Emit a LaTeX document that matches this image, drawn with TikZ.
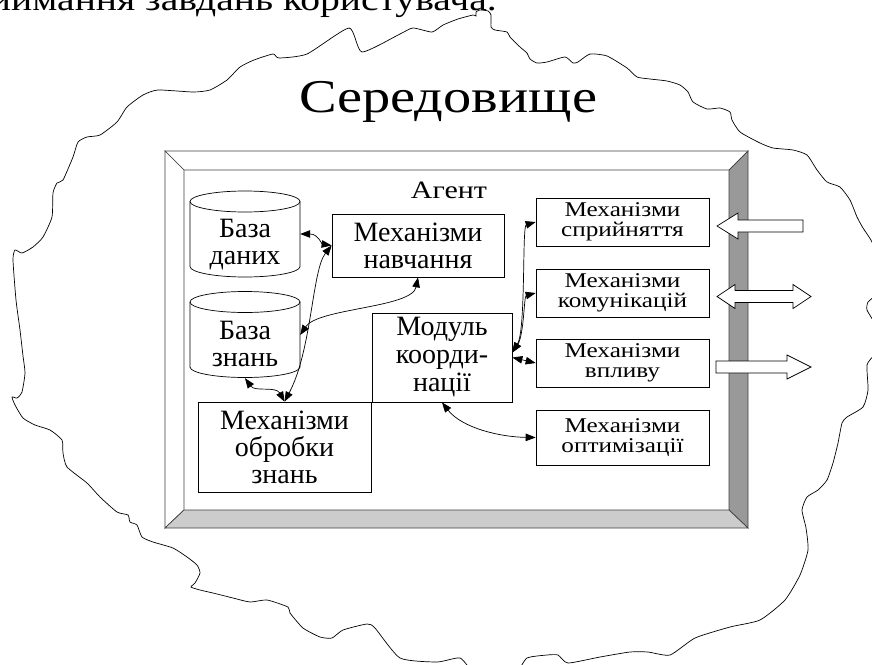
\documentclass[tikz,border=0pt]{standalone}
\usepackage{fontspec}
\setmainfont{Liberation Serif}
\newfontfamily\widefont{Liberation Serif}[FakeStretch=1.2]
\usetikzlibrary{arrows.meta,calc}

\begin{document}
\begin{tikzpicture}[x=1pt,y=-1pt,
  box/.style={draw, rectangle, inner sep=0pt, align=center, line width=0.7pt},
  bigtext/.style={font=\fontsize{28}{27}\selectfont},
  smalltext/.style={font=\widefont\fontsize{21}{19.5}\selectfont},
  link/.style={line width=0.7pt,
    {Triangle[length=10pt,width=7.5pt]}-{Triangle[length=10pt,width=7.5pt]}},
  flow/.style={draw, fill=white, line width=0.7pt, line join=miter},
  bevel/.style={draw=black!75, line width=0.7pt, line join=miter},
]
\useasboundingbox (0,0) rectangle (872,664);

% running text of the page above the figure
\node[anchor=base east, inner sep=0pt, font=\widefont\fontsize{33}{33}\selectfont] (intro) at (497,10) {приймання завдань користувача.};

% environment outline
\draw[line width=0.7pt] plot[smooth cycle, tension=0.35] coordinates {
 (13,260) (15,250) (22,253) (33,247) (43,237) (52,217) (53,193) (57,183)
 (63,180) (73,157) (78,142) (87,137) (100,135) (117,122) (127,107) (143,95)
 (158,90) (193,92) (210,90) (227,80) (240,67) (254,60) (273,54) (279,58)
 (307,54) (349,28) (362,52) (400,34) (413,28) (432,32) (443,25) (458,19)
 (473,15) (476,16) (476,12) (480,10) (488,11) (491,15) (491,27) (495,30)
 (507,32) (510,37) (520,47) (527,53) (530,59) (537,63) (547,62) (565,57)
 (573,63) (578,62) (590,54) (607,56) (627,68) (637,77) (650,79) (667,81)
 (680,85) (688,92) (693,102) (707,109) (720,108) (730,112) (732,120)
 (740,132) (760,143) (773,148) (793,150) (807,155) (817,170) (827,182)
 (840,187) (850,200) (857,217) (863,228) (872,242) (880,265) (878,292)
 (868,302) (867,310) (874,322) (882,340) (874,355) (867,365) (868,390)
 (863,407) (847,417) (842,423) (838,443) (833,463) (827,480) (818,490)
 (807,497) (802,510) (806,528) (808,550) (800,575) (785,600) (760,620)
 (730,627) (695,638) (670,655) (648,652) (630,652) (600,657) (568,663)
 (558,655) (547,655) (527,658) (515,672) (475,672) (460,658) (437,662)
 (400,658) (375,628) (367,624) (343,630) (332,638) (320,637) (303,628)
 (290,613) (288,607) (267,600) (250,602) (233,598) (213,593) (200,590)
 (191,587) (195,583) (200,573) (197,565) (187,557) (173,548) (153,542)
 (142,537) (137,525) (130,522) (128,515) (117,512) (100,497) (87,483)
 (67,467) (63,453) (62,440) (50,430) (35,425) (23,418) (15,405) (12,397)
 (17,398) (22,392) (25,373) (23,356) (20,330) (16,300)
};

\node[anchor=base, inner sep=0pt, font=\widefont\fontsize{47}{47}\selectfont] (env) at (448,112) {Середовище};

% agent frame with bevelled edges
\coordinate (o1) at (165,151); \coordinate (o2) at (748,151);
\coordinate (o3) at (748,528); \coordinate (o4) at (165,528);
\coordinate (i1) at (184,170); \coordinate (i2) at (729,170);
\coordinate (i3) at (729,510); \coordinate (i4) at (184,510);
\draw[bevel, fill=white] (o1) -- (o2) -- (i2) -- (i1) -- cycle;
\draw[bevel, fill=white] (o1) -- (i1) -- (i4) -- (o4) -- cycle;
\draw[bevel, fill=black!40] (o2) -- (o3) -- (i3) -- (i2) -- cycle;
\draw[bevel, fill=black!20] (o4) -- (i4) -- (i3) -- (o3) -- cycle;

\node[anchor=base, inner sep=0pt, font=\widefont\fontsize{25}{25}\selectfont] (agent) at (449,198) {Агент};

% data stores
\node[inner sep=0pt, minimum width=110pt, minimum height=86pt] (bd) at (245,234) {};
\node[inner sep=0pt, minimum width=110pt, minimum height=86pt] (bz) at (245,335) {};
\foreach \c/\top/\bot in {bd/201.5/266.5, bz/302/367}{
  \draw[line width=0.7pt] (190,\top) -- (190,\bot)
     arc[start angle=180, end angle=360, x radius=55pt, y radius=10.5pt]
     -- (300,\top);
  \draw[line width=0.7pt] (245,\top) ellipse[x radius=55pt, y radius=10.5pt];
}
\node[anchor=base, bigtext, align=center, inner sep=0pt] (bdtext) at (245,264) {База\\даних};
\node[anchor=base, bigtext, align=center, inner sep=0pt] (bztext) at (245,366) {База\\знань};

% processing modules
\node[box, bigtext, minimum width=172pt, minimum height=63pt] (mn) at (418,245.5) {Механізми\\навчання};
\node[box, minimum width=140pt, minimum height=89pt, font=\fontsize{28}{28}\selectfont] (mk) at (442,357.5) {Модуль\\коорди-\\нації};
\node[box, bigtext, minimum width=173pt, minimum height=90pt] (mo) at (284.5,447) {Механізми\\обробки\\знань};

\node[box, smalltext, minimum width=173pt, minimum height=48pt] (ms) at (622.5,222) {Механізми\\сприйняття};
\node[box, smalltext, minimum width=173pt, minimum height=48pt] (mkom) at (622.5,293) {Механізми\\комунікацій};
\node[box, smalltext, minimum width=173pt, minimum height=48pt] (mv) at (622.5,363) {Механізми\\впливу};
\node[box, smalltext, minimum width=173pt, minimum height=55pt] (mopt) at (622.5,437.5) {Механізми\\оптимізації};

% links between the components
\draw[link] (bd.east) .. controls (318,234) and (322,244) .. (mn.west);
\draw[link] (mn.west) .. controls (312,270) and (312,350) .. (mo.north);
\draw[link] (bz.east) .. controls (318,308) and (412,308) .. (mn.south);
\draw[link] (bz.south) .. controls (255,392) and (276,386) .. (mo.north);
\draw[link] ([yshift=5pt]mk.east) .. controls (526,330) and (522,226) .. (ms.west);
\draw[link] ([yshift=5pt]mk.east) .. controls (524,335) and (524,296) .. (mkom.west);
\draw[link] (mk.east) -- (mv.west);
\draw[link] (mk.south) .. controls (462,428) and (500,437) .. (mopt.west);

% exchange with the environment
\draw[flow] (717,226) -- (738,213) -- (738,220) -- (803,220) -- (803,232) -- (738,232) -- (738,239) -- cycle;
\draw[flow] (717,296.5) -- (735,284.5) -- (735,290.5) -- (793,290.5) -- (793,284.5) -- (811,296.5)
  -- (793,308.5) -- (793,302.5) -- (735,302.5) -- (735,308.5) -- cycle;
\draw[flow] (716,361) -- (787,361) -- (787,355) -- (811,367) -- (787,379) -- (787,373) -- (716,373) -- cycle;
\end{tikzpicture}
\end{document}
